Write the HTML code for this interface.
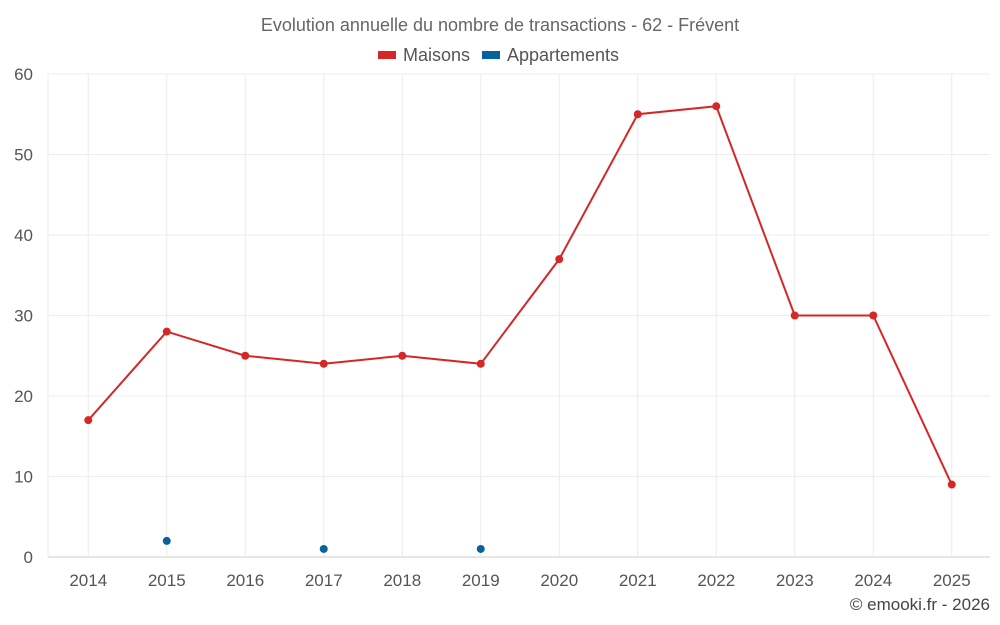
<!DOCTYPE html>
<html><head><meta charset="utf-8"><style>
body{margin:0;background:#fff;}
svg{display:block;font-family:"Liberation Sans",sans-serif;}
</style></head><body>
<svg id="chart" width="1000" height="625">
<text x="500" y="31" text-anchor="middle" font-size="18" fill="#666">Evolution annuelle du nombre de transactions - 62 - Frévent</text>
<g>
<g><rect x="378" y="51" width="18" height="8" fill="#d62728"/><text x="403" y="61" font-size="18" fill="#555">Maisons</text></g>
<g><rect x="482" y="51" width="18" height="8" fill="#08629e"/><text x="507" y="61" font-size="18" fill="#555">Appartements</text></g>
</g>
<g id="grid"></g>
<g id="axes"></g>
<g id="series"></g>
<text x="990" y="610" text-anchor="end" font-size="17" fill="#444">© emooki.fr - 2026</text>
</svg>
<script>
const categories=["2014","2015","2016","2017","2018","2019","2020","2021","2022","2023","2024","2025"];
const maisons=[17,28,25,24,25,24,37,55,56,30,30,9];
const appartements=[null,2,null,1,null,1,null,null,null,null,null,null];
const yTicks=[0,10,20,30,40,50,60];
const NS="http://www.w3.org/2000/svg";
const L=48,R=990,T=74,B=557,ymax=60;
const bw=(R-L)/categories.length;
function x(i){return L+1+bw*(i+0.5);}
function y(v){return B-(B-T)*v/ymax;}
function mk(tag,attrs,parent){const e=document.createElementNS(NS,tag);for(const k in attrs)e.setAttribute(k,attrs[k]);document.getElementById(parent).appendChild(e);return e;}
yTicks.forEach(v=>{
 const g=mk('line',{x1:L,x2:R,y1:y(v),y2:y(v),stroke:v===0?'#ccc':'#ececec','stroke-width':1},'grid');
 
 
 const t=mk('text',{x:33,y:y(v)+6,'text-anchor':'end','font-size':17,fill:'#555'},'axes');
 t.textContent=v;
 
 
});
mk('line',{x1:L,x2:L,y1:T,y2:B,stroke:'#ececec'},'grid');
categories.forEach((c,i)=>{
 const g=mk('line',{x1:x(i),x2:x(i),y1:T,y2:B,stroke:'#ececec'},'grid');
 
 
 const t=mk('text',{x:x(i),y:586,'text-anchor':'middle','font-size':17,fill:'#555'},'axes');
 t.textContent=c;
 
 
});
const pts=maisons.map((v,i)=>x(i)+','+y(v)).join(' ');
const pl=mk('polyline',{points:pts,fill:'none',stroke:'#d62728','stroke-width':2},'series');


maisons.forEach((v,i)=>{
 const c=mk('circle',{cx:x(i),cy:y(v),r:4,fill:'#d62728'},'series');
 
 
});
appartements.forEach((v,i)=>{
 if(v===null)return;
 const c=mk('circle',{cx:x(i),cy:y(v),r:4,fill:'#08629e'},'series');
 
 
});
</script>
</body></html>
